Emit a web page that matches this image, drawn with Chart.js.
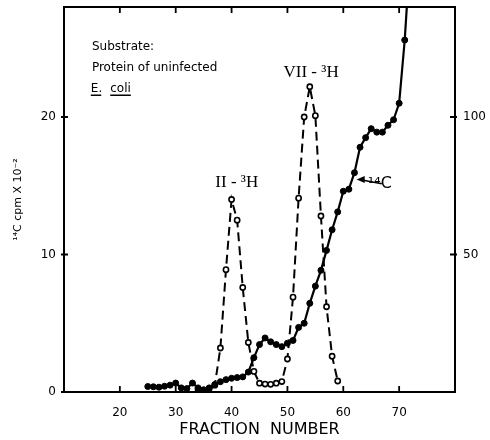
<!DOCTYPE html>
<html>
<head>
<meta charset="utf-8">
<script src="https://cdn.jsdelivr.net/npm/chart.js@4/dist/chart.umd.min.js"></script>
<style>
html,body{margin:0;padding:0;background:#fff;}
#wrap{width:490px;height:440px;}
</style>
</head>
<body>
<div id="wrap"><canvas id="c" width="490" height="440"></canvas></div>
<script>
// ---- data ----
// 14C (solid line, filled dots), left axis: cpm x 10^-2
const fractionsC = [25,26,27,28,29,30,31,32,33,34,35,36,37,38,39,40,41,42,43,44,45,46,47,48,49,50,51,52,53,54,55,56,57,58,59,60,61,62,63,64,65,66,67,68,69,70,71,72];
const valuesC = [0.4,0.38,0.35,0.42,0.5,0.65,0.3,0.25,0.65,0.3,0.15,0.3,0.55,0.75,0.9,1.0,1.05,1.1,1.45,2.5,3.45,3.93,3.65,3.45,3.3,3.55,3.75,4.7,5.0,6.45,7.7,8.85,10.3,11.8,13.1,14.6,14.75,15.95,17.8,18.5,19.15,18.9,18.9,19.4,19.8,21.0,25.6,32];
// 3H (dashed line, open circles), right axis
const fractionsH = [34,35,36,37,38,39,40,41,42,43,44,45,46,47,48,49,50,51,52,53,54,55,56,57,58,59];
const valuesH = [1,0.75,1.25,2.5,16,44.5,70,62.5,38,18,7.5,3.2,2.9,2.8,3.2,3.8,12,34.5,70.5,100,111,100.5,64,31,13,4];
// axes
const xTicks = [20,30,40,50,60,70];
const yLeftTicks = [0,10,20];
const yRightTicks = [50,100];

const FONT = "'DejaVu Sans', sans-serif";

const pts = (xs, ys) => xs.map((x,i)=>({x:x, y:ys[i]}));

const frame = {
  id:'frame',
  afterDraw(chart){
    const ctx = chart.ctx, a = chart.chartArea;
    const xs = chart.scales.x, yl = chart.scales.y, yr = chart.scales.y2;
    ctx.save();
    ctx.strokeStyle = '#000';
    ctx.lineWidth = 2;
    ctx.strokeRect(a.left, a.top, a.right - a.left, a.bottom - a.top);
    ctx.lineWidth = 1.8;
    ctx.beginPath();
    xTicks.forEach(v=>{
      const px = xs.getPixelForValue(v);
      ctx.moveTo(px, a.bottom); ctx.lineTo(px, a.bottom - 6);
      ctx.moveTo(px, a.top); ctx.lineTo(px, a.top + 6);
    });
    yLeftTicks.forEach(v=>{
      const py = yl.getPixelForValue(v);
      ctx.moveTo(a.left - 3, py); ctx.lineTo(a.left + 4, py);
    });
    yRightTicks.forEach(v=>{
      const py = yr.getPixelForValue(v);
      ctx.moveTo(a.right - 5, py); ctx.lineTo(a.right + 2, py);
    });
    ctx.stroke();

    // annotations
    ctx.fillStyle = '#000';
    ctx.textBaseline = 'alphabetic';
    ctx.textAlign = 'left';
    ctx.font = "12px " + FONT;
    const X = v => xs.getPixelForValue(v), Y = v => yl.getPixelForValue(v);
    ctx.fillText('Substrate:', X(15), Y(24.9));
    ctx.fillText('Protein of uninfected', X(15), Y(23.35));
    const ex = X(14.8), ey = Y(21.8);
    ctx.fillText('E.', ex, ey);
    const w1 = ctx.measureText('E.').width;
    const cx = ex + w1 + 8;
    ctx.fillText('coli', cx, ey);
    const w2 = ctx.measureText('coli').width;
    ctx.lineWidth = 1.3;
    ctx.beginPath();
    ctx.moveTo(ex, ey + 3); ctx.lineTo(ex + w1 - 1, ey + 3);
    ctx.moveTo(cx, ey + 3); ctx.lineTo(cx + w2, ey + 3);
    ctx.stroke();

    ctx.font = "17px 'Liberation Serif', serif";
    ctx.fillText('VII - ³H', X(49.3), Y(22.9));
    ctx.fillText('II - ³H', X(37.1), Y(14.9));
    ctx.font = "16px " + FONT;
    ctx.fillText('¹⁴C', X(64.4), Y(14.85));
    // arrow
    const ax1 = X(66.9), ay1 = Y(15.15), ax2 = X(62.4), ay2 = Y(15.45);
    ctx.lineWidth = 1.6;
    ctx.beginPath();
    ctx.moveTo(ax1, ay1); ctx.lineTo(ax2 + 4, ay2 + 0.2);
    ctx.stroke();
    ctx.beginPath();
    ctx.moveTo(ax2, ay2);
    ctx.lineTo(ax2 + 8, ay2 - 3.5);
    ctx.lineTo(ax2 + 8, ay2 + 3.5);
    ctx.closePath();
    ctx.fill();
    ctx.restore();
  }
};

new Chart(document.getElementById('c'), {
  type: 'line',
  data: {
    datasets: [
      {
        label: '14C',
        data: pts(fractionsC, valuesC),
        yAxisID: 'y',
        borderColor: '#000',
        borderWidth: 2.2,
        pointRadius: 3,
        pointBackgroundColor: '#000',
        pointBorderColor: '#000',
        pointBorderWidth: 1,
        tension: 0,
        fill: false
      },
      {
        label: '3H',
        data: pts(fractionsH, valuesH),
        yAxisID: 'y2',
        borderColor: '#000',
        borderWidth: 2,
        borderDash: [9, 5],
        pointRadius: 2.6,
        pointBackgroundColor: '#fff',
        pointBorderColor: '#000',
        pointBorderWidth: 1.6,
        tension: 0,
        fill: false
      }
    ]
  },
  options: {
    responsive: false,
    animation: false,
    events: [],
    layout: { padding: { top: 7, left: 0, right: 0, bottom: 0 } },
    plugins: { legend: { display: false }, tooltip: { enabled: false } },
    scales: {
      x: {
        type: 'linear',
        min: 10, max: 80,
        grid: { display: false, drawTicks: false },
        border: { display: false },
        ticks: {
          stepSize: 10,
          padding: 14,
          color: '#000',
          font: { family: FONT, size: 12 },
          callback: v => xTicks.includes(v) ? String(v) : ''
        },
        title: {
          display: true,
          text: 'FRACTION  NUMBER',
          color: '#000',
          font: { family: FONT, size: 16 },
          padding: { top: 0, bottom: 1 }
        },
        afterFit: s => { s.height = 48; s.paddingLeft = 0; s.paddingRight = 0; }
      },
      y: {
        position: 'left',
        min: 0, max: 28,
        grid: { display: false, drawTicks: false },
        border: { display: false },
        ticks: {
          stepSize: 10,
          includeBounds: false,
          padding: 8,
          color: '#000',
          font: { family: FONT, size: 12 },
          callback: v => yLeftTicks.includes(v) ? String(v) : ''
        },
        title: {
          display: true,
          text: '¹⁴C cpm X 10⁻²',
          color: '#000',
          font: { family: FONT, size: 11 },
          padding: { top: 12, bottom: 0 }
        },
        afterFit: s => { s.width = 64; s.paddingTop = 0; s.paddingBottom = 0; }
      },
      y2: {
        position: 'right',
        min: 0, max: 140,
        grid: { display: false, drawTicks: false },
        border: { display: false },
        ticks: {
          stepSize: 50,
          includeBounds: false,
          padding: 8,
          color: '#000',
          font: { family: FONT, size: 12 },
          callback: v => yRightTicks.includes(v) ? String(v) : ''
        },
        afterFit: s => { s.width = 35; s.paddingTop = 0; s.paddingBottom = 0; }
      }
    }
  },
  plugins: [frame]
});
</script>
</body>
</html>
